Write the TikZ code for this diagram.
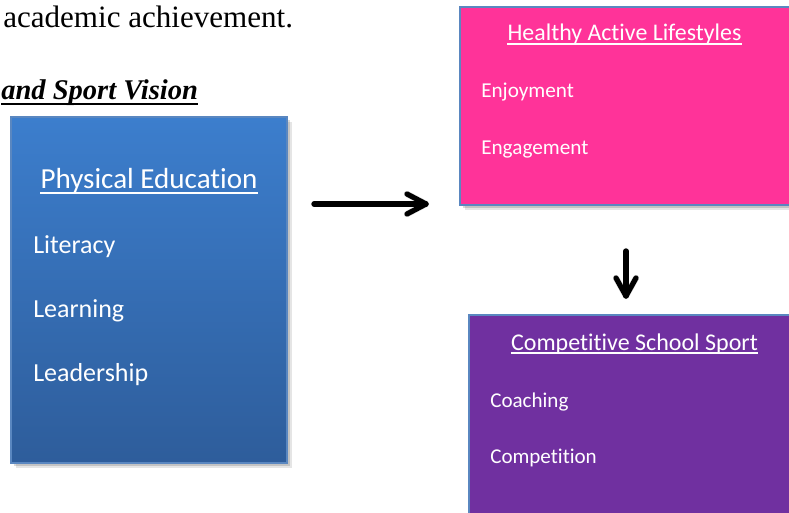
\documentclass[tikz,border=0pt]{standalone}
\usepackage{fontspec}
\setmainfont{Liberation Serif}
\newfontfamily\boxfont[Ligatures={NoCommon,NoRequired,NoContextual}]{Carlito}
\usetikzlibrary{shadows}
\definecolor{peTop}{HTML}{3C7ECD}
\definecolor{peBot}{HTML}{2E5D9B}
\definecolor{halFill}{HTML}{FF3399}
\definecolor{cssFill}{HTML}{7030A0}
\definecolor{boxEdge}{HTML}{5A87C0}
\tikzset{
  panel/.style={draw=boxEdge, line width=0.8pt, inner sep=0pt,
    drop shadow={shadow xshift=4pt, shadow yshift=-4pt, opacity=0.10, fill=black},
    drop shadow={shadow xshift=2.5pt, shadow yshift=-2.5pt, opacity=0.15, fill=black}},
  txt/.style={inner sep=0pt, text=white, font=\boxfont},
  uline/.style={white, line width=1.1pt},
  arrowline/.style={black, line width=3.9pt, line cap=round, line join=round},
  arrowshadow/.style={black!30, opacity=0.45, line width=4.7pt, line cap=round, line join=round}
}
\begin{document}
\begin{tikzpicture}[x=0.75pt, y=-0.75pt]
\useasboundingbox (0,0) rectangle (789,513);
% heading text
\node[inner sep=0pt, anchor=base west, font=\fontsize{23.3}{28}\selectfont] (acad) at (3,28) {academic achievement.};
\node[inner sep=0pt, anchor=base west, font=\fontsize{21.4}{26}\selectfont\bfseries\itshape] (vis) at (1,100) {and Sport Vision};
\draw[black, line width=1.6pt] ([yshift=-3pt]vis.base west) -- ([yshift=-3pt]vis.base east);

% boxes
\node[panel, top color=peTop, bottom color=peBot, minimum width=207pt, minimum height=259.5pt] (pe) at (149,290) {};
\node[panel, fill=halFill, minimum width=251.25pt, minimum height=148.5pt] (hal) at (627.5,106) {};
\node[panel, fill=cssFill, minimum width=244.5pt, minimum height=153.75pt] (css) at (632,417.5) {};

% PE text
\node[txt, anchor=base, font=\boxfont\fontsize{21.8}{26}\selectfont] (pet) at (149,189) {Physical Education};
\draw[uline] ([yshift=-3pt]pet.base west) -- ([yshift=-3pt]pet.base east);
\node[txt, anchor=base west, font=\boxfont\fontsize{19.5}{24}\selectfont] (pe1) at (33,254) {Literacy};
\node[txt, anchor=base west, font=\boxfont\fontsize{19.5}{24}\selectfont] (pe2) at (33,318) {Learning};
\node[txt, anchor=base west, font=\boxfont\fontsize{19.5}{24}\selectfont] (pe3) at (33,382) {Leadership};

% HAL text
\node[txt, anchor=base, font=\boxfont\fontsize{17.9}{22}\selectfont] (halt) at (624.5,41) {Healthy Active Lifestyles};
\draw[uline] ([yshift=-2.4pt]halt.base west) -- ([yshift=-2.4pt]halt.base east);
\node[txt, anchor=base west, font=\boxfont\fontsize{15.9}{19}\selectfont] (hal1) at (481,98) {Enjoyment};
\node[txt, anchor=base west, font=\boxfont\fontsize{15.9}{19}\selectfont] (hal2) at (481,155) {Engagement};

% CSS text
\node[txt, anchor=base, font=\boxfont\fontsize{18}{22}\selectfont] (csst) at (634.5,350) {Competitive School Sport};
\draw[uline] ([yshift=-2.4pt]csst.base west) -- ([yshift=-2.4pt]csst.base east);
\node[txt, anchor=base west, font=\boxfont\fontsize{15.8}{19}\selectfont] (css1) at (490,407) {Coaching};
\node[txt, anchor=base west, font=\boxfont\fontsize{15.8}{19}\selectfont] (css2) at (490,463) {Competition};

% arrows
\coordinate (a1s) at (314,204);
\coordinate (a1e) at (426,204);
\coordinate (a2s) at (626,251);
\coordinate (a2e) at (626,296);
\begin{scope}[shift={(2,3)}]
\draw[arrowshadow] (a1s) -- (a1e);
\draw[arrowshadow] ([shift={(-19,-10)}]a1e) -- (a1e) -- ([shift={(-19,10)}]a1e);
\draw[arrowshadow] (a2s) -- (a2e);
\draw[arrowshadow] ([shift={(-10,-18)}]a2e) -- (a2e) -- ([shift={(10,-18)}]a2e);
\end{scope}
\draw[arrowline] (a1s) -- (a1e);
\draw[arrowline] ([shift={(-19,-10)}]a1e) -- (a1e) -- ([shift={(-19,10)}]a1e);
\draw[arrowline] (a2s) -- (a2e);
\draw[arrowline] ([shift={(-10,-18)}]a2e) -- (a2e) -- ([shift={(10,-18)}]a2e);
\end{tikzpicture}
\end{document}
